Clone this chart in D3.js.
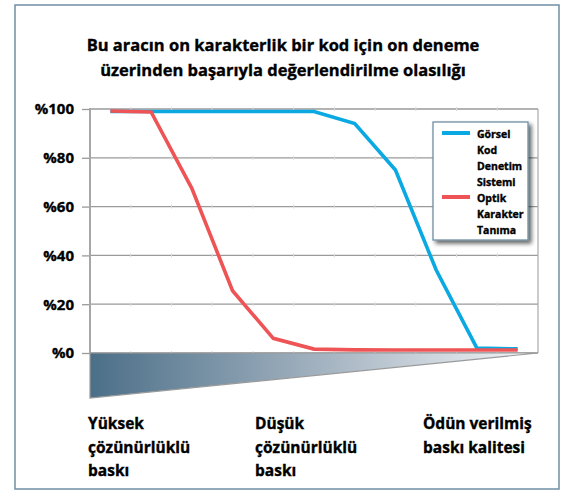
<!DOCTYPE html>
<html>
<head>
<meta charset="utf-8">
<script src="https://cdn.jsdelivr.net/npm/d3@7"></script>
<style>
  body { margin: 0; background: #fff; }
  text { font-family: "Open Sans", "DejaVu Sans", sans-serif; font-weight: 700; fill: #000; stroke: #000; stroke-width: 0.35px; }
</style>
</head>
<body>
<svg id="chart" width="566" height="491"></svg>
<script>
/* data */
var categories = ["1","2","3","4","5","6","7","8","9","10","11"];
var gorselValues = [99, 99, 99, 99, 99, 99, 94, 75, 34, 2, 1.7];
var optikValues  = [99.2, 98.8, 67.5, 25.5, 6, 1.6, 1.3, 1.2, 1.2, 1.2, 1.2];
var yTicks = [0, 20, 40, 60, 80, 100];
var seriesNames = [["Görsel","Kod","Denetim","Sistemi"], ["Optik","Karakter","Tanıma"]];
var xLabels = [["Yüksek","çözünürlüklü","baskı"], ["Düşük","çözünürlüklü","baskı"], ["Ödün verilmiş","baskı kalitesi"]];
var titleLines = ["Bu aracın on karakterlik bir kod için on deneme", "üzerinden başarıyla değerlendirilme olasılığı"];

var blue = "#0aa9e2", red = "#ee5456";

var svg = d3.select("#chart");
var defs = svg.append("defs");

/* outer frame */
svg.append("rect")
  .attr("x", 15).attr("y", 5).attr("width", 544).attr("height", 484)
  .attr("fill", "#fff").attr("stroke", "#6f8ea3").attr("stroke-width", 1.5);

/* title */
svg.append("text")
  .attr("x", 283).attr("y", 51)
  .attr("text-anchor", "middle")
  .style("font-size", "16.5px")
  .selectAll("tspan").data(titleLines).enter()
  .append("tspan")
    .attr("x", 283)
    .attr("dy", function (d, i){ return i ? 25 : 0; })
    .text(function (d){ return d; });

var plotLeft = 90, plotRight = 538, plotTop = 109, plotBottom = 353;

var xScale = d3.scaleBand().domain(categories).range([plotLeft, plotRight]);
var yScale = d3.scaleLinear().domain([0, 100]).range([plotBottom, plotTop]);

/* gridlines */
var g = svg.append("g");
g.selectAll(".grid").data(yTicks).enter()
  .append("line")
    .attr("x1", plotLeft).attr("x2", plotRight)
    .attr("y1", function (d){ return yScale(d); })
    .attr("y2", function (d){ return yScale(d); })
    .attr("stroke", "#9a9a9a").attr("stroke-width", 1.3);

/* faint category ticks on gridlines */
categories.slice(1).forEach(function (c){
  yTicks.forEach(function (t){
    g.append("line")
      .attr("x1", xScale(c)).attr("x2", xScale(c))
      .attr("y1", yScale(t) - 2).attr("y2", yScale(t) + 2)
      .attr("stroke", "#dcdcdc");
  });
});

/* right border of plot */
g.append("line")
  .attr("x1", plotRight).attr("x2", plotRight)
  .attr("y1", plotTop).attr("y2", plotBottom)
  .attr("stroke", "#b0b0b0").attr("stroke-width", 1.3);

/* gradient triangle under the axis */
var grad = defs.append("linearGradient").attr("id", "tri")
  .attr("x1", "0%").attr("x2", "100%").attr("y1", "0%").attr("y2", "0%");
grad.append("stop").attr("offset", "0%").attr("stop-color", "#4b6f88");
grad.append("stop").attr("offset", "55%").attr("stop-color", "#a9b7c4");
grad.append("stop").attr("offset", "100%").attr("stop-color", "#f4f6f8");

svg.append("path")
  .attr("d", "M" + plotLeft + "," + plotBottom + "L" + plotRight + "," + plotBottom +
             "L" + plotLeft + "," + (plotBottom + 45) + "Z")
  .attr("fill", "url(#tri)")
  .attr("stroke", "#9a9a9a").attr("stroke-width", 1.2);

/* y axis */
var yAxis = d3.axisLeft(yScale)
  .tickValues(yTicks)
  .tickSize(8)
  .tickPadding(8)
  .tickFormat(function (d){ return "%" + d; });

var yAxisG = svg.append("g")
  .attr("transform", "translate(" + plotLeft + ",0)")
  .call(yAxis);
yAxisG.select(".domain").remove();
yAxisG.selectAll(".tick line").attr("stroke", "#9a9a9a").attr("stroke-width", 1.3);
yAxisG.selectAll(".tick text")
  .attr("fill", "#000")
  .style("font-family", "\"Open Sans\", sans-serif")
  .style("font-weight", "700")
  .style("font-size", "15px");

svg.append("line")
  .attr("x1", plotLeft).attr("x2", plotLeft)
  .attr("y1", plotTop - 1).attr("y2", plotBottom)
  .attr("stroke", "#a6a6a6").attr("stroke-width", 2);

/* lines */
var line = d3.line()
  .x(function (d, i){ return xScale(categories[i]) + xScale.bandwidth() / 2; })
  .y(function (d){ return yScale(d); });

svg.append("path").datum(gorselValues)
  .attr("d", line).attr("fill", "none")
  .attr("stroke", blue).attr("stroke-width", 3.6);

svg.append("path").datum(optikValues)
  .attr("d", line).attr("fill", "none")
  .attr("stroke", red).attr("stroke-width", 3.6);

/* legend */
var shadow = defs.append("filter").attr("id", "shadow")
  .attr("x", "-20%").attr("y", "-20%").attr("width", "150%").attr("height", "150%");
shadow.append("feGaussianBlur").attr("in", "SourceAlpha").attr("stdDeviation", 2);
shadow.append("feOffset").attr("dx", 3).attr("dy", 3).attr("result", "b");
shadow.append("feComponentTransfer").append("feFuncA").attr("type", "linear").attr("slope", 0.6);
var merge = shadow.append("feMerge");
merge.append("feMergeNode");
merge.append("feMergeNode").attr("in", "SourceGraphic");

var lg = svg.append("g").attr("transform", "translate(433,122)");
lg.append("rect")
  .attr("width", 95).attr("height", 118)
  .attr("fill", "#fff").attr("stroke", "#6f8ea3").attr("stroke-width", 1.3)
  .attr("filter", "url(#shadow)");

var colors = [blue, red];
var row = 0;
seriesNames.forEach(function (names, s){
  lg.append("line")
    .attr("x1", 9).attr("x2", 37)
    .attr("y1", 11 + row * 16).attr("y2", 11 + row * 16)
    .attr("stroke", colors[s]).attr("stroke-width", 4);
  names.forEach(function (n){
    lg.append("text")
      .attr("x", 44).attr("y", 15.5 + row * 16)
      .style("font-size", "10.5px")
      .text(n);
    row++;
  });
});

/* x labels */
var xPos = [88, 255, 423];
xLabels.forEach(function (lines, i){
  svg.append("text")
    .style("font-size", "15.5px")
    .selectAll("tspan").data(lines).enter()
    .append("tspan")
      .attr("x", xPos[i])
      .attr("y", function (d, j){ return 429 + j * 23.5; })
      .text(function (d){ return d; });
});
</script>
</body>
</html>
